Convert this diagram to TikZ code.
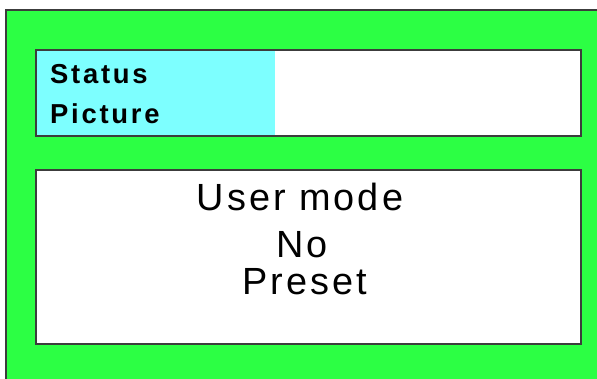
\documentclass[tikz,border=0pt]{standalone}
\usepackage{fontspec}
\setmainfont{Liberation Sans}
\newfontfamily\lblfont[LetterSpace=10]{Liberation Sans}
\newfontfamily\msgfont[LetterSpace=8]{Liberation Sans}
\definecolor{scrgreen}{RGB}{44,255,68}
\definecolor{scrcyan}{RGB}{125,255,255}
\definecolor{edgegray}{RGB}{60,60,60}
\tikzset{
  panel/.style={draw=edgegray, line width=1.5bp},
  lbl/.style={anchor=base west, inner sep=0pt, font=\lblfont\bfseries\fontsize{27.5}{27.5}\selectfont},
  msg/.style={anchor=base, inner sep=0pt, font=\msgfont\fontsize{38}{38}\selectfont}
}
\begin{document}
\begin{tikzpicture}[x=1bp,y=-1bp]
\useasboundingbox (0,0) rectangle (597,378);
\fill[white] (0,0) rectangle (597,378);
% outer green screen
\fill[scrgreen] (6,10) rectangle (598,379);
\draw[edgegray, line width=1.5bp] (6,379) -- (6,10) -- (598,10);
% status panel
\fill[white] (36,50) rectangle (581,136);
\fill[scrcyan] (36,50) rectangle (275,136);
\draw[panel] (36,50) rectangle (581,136);
% message panel
\fill[white] (36,170) rectangle (581,344);
\draw[panel] (36,170) rectangle (581,344);
% texts
\node[lbl] (status) at (50,83) {Status};
\node[lbl] (picture) at (50,123) {Picture};
\node[msg] (user) at (300,210) {User mode};
\node[msg] (no) at (302,257) {No};
\node[msg] (preset) at (305,294) {Preset};
\end{tikzpicture}
\end{document}
